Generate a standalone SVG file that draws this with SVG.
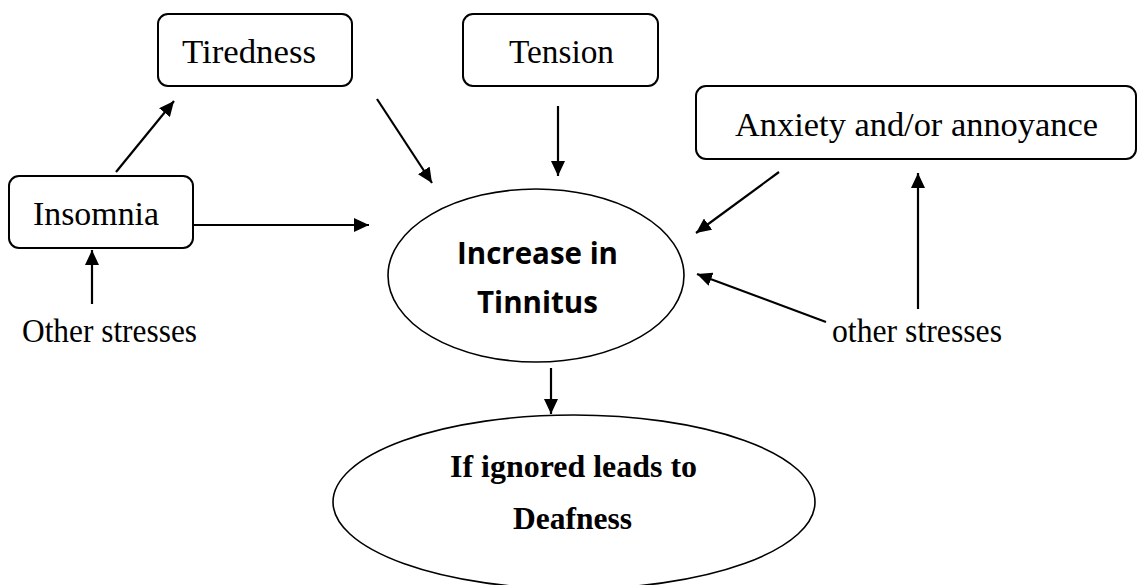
<svg xmlns="http://www.w3.org/2000/svg" width="1137" height="585" viewBox="0 0 1137 585">
<defs>
<marker id="ah" markerUnits="userSpaceOnUse" markerWidth="16" markerHeight="14" refX="15" refY="7" orient="auto">
<path d="M0,0 L15,7 L0,14 z" fill="#000"/>
</marker>
<style>
.box{fill:#fff;stroke:#000;stroke-width:2}
.ell{fill:#fff;stroke:#000;stroke-width:1.6}
.lbl{font-family:"Liberation Serif","DejaVu Serif",serif;font-size:33px;fill:#000}
.cal{font-family:"Open Sans","Liberation Sans",sans-serif;font-weight:bold;font-size:30px;fill:#000}
.bt{font-family:"Liberation Serif",serif;font-weight:bold;font-size:32px;fill:#000}
.con{stroke:#000;stroke-width:2.2;fill:none;marker-end:url(#ah)}
</style>
</defs>
<rect width="1137" height="585" fill="#fff"/>
<g id="connectors">
<line class="con" x1="116" y1="172" x2="174" y2="101"/>
<line class="con" x1="193" y1="225" x2="369" y2="225"/>
<line class="con" x1="92" y1="304" x2="92" y2="250"/>
<line class="con" x1="377" y1="99" x2="432" y2="183"/>
<line class="con" x1="558" y1="106" x2="558" y2="176"/>
<line class="con" x1="779" y1="172" x2="696" y2="233"/>
<line class="con" x1="826" y1="322" x2="697" y2="274"/>
<line class="con" x1="918" y1="309" x2="918" y2="173"/>
<line class="con" x1="551" y1="368" x2="551" y2="414"/>
</g>
<g id="tiredness">
<rect class="box" x="158" y="14" width="194" height="72" rx="10"/>
<text class="lbl" x="182" y="63" textLength="134" lengthAdjust="spacingAndGlyphs">Tiredness</text>
</g>
<g id="tension">
<rect class="box" x="463" y="14" width="195" height="72" rx="10"/>
<text class="lbl" x="509" y="63" textLength="105" lengthAdjust="spacingAndGlyphs">Tension</text>
</g>
<g id="insomnia">
<rect class="box" x="9" y="176" width="184" height="72" rx="10"/>
<text class="lbl" x="33" y="225" textLength="126" lengthAdjust="spacingAndGlyphs">Insomnia</text>
</g>
<g id="anxiety">
<rect class="box" x="696" y="86" width="440" height="73" rx="10"/>
<text class="lbl" x="735" y="136" textLength="363" lengthAdjust="spacingAndGlyphs">Anxiety and/or annoyance</text>
</g>
<g id="other-stresses-left">
<text class="lbl" x="22" y="342" font-size="31" textLength="175" lengthAdjust="spacingAndGlyphs">Other stresses</text>
</g>
<g id="other-stresses-right">
<text class="lbl" x="832" y="342" font-size="31" textLength="170" lengthAdjust="spacingAndGlyphs">other stresses</text>
</g>
<g id="tinnitus">
<ellipse class="ell" cx="536" cy="275.5" rx="148" ry="86.5"/>
<text class="cal" x="457" y="264" textLength="161" lengthAdjust="spacingAndGlyphs">Increase in</text>
<text class="cal" x="477" y="313" textLength="121" lengthAdjust="spacingAndGlyphs">Tinnitus</text>
</g>
<g id="deafness">
<ellipse class="ell" cx="574" cy="502" rx="241" ry="87"/>
<text class="bt" x="450" y="477" textLength="247" lengthAdjust="spacingAndGlyphs">If ignored leads to</text>
<text class="bt" x="513" y="529" textLength="119" lengthAdjust="spacingAndGlyphs">Deafness</text>
</g>
</svg>
